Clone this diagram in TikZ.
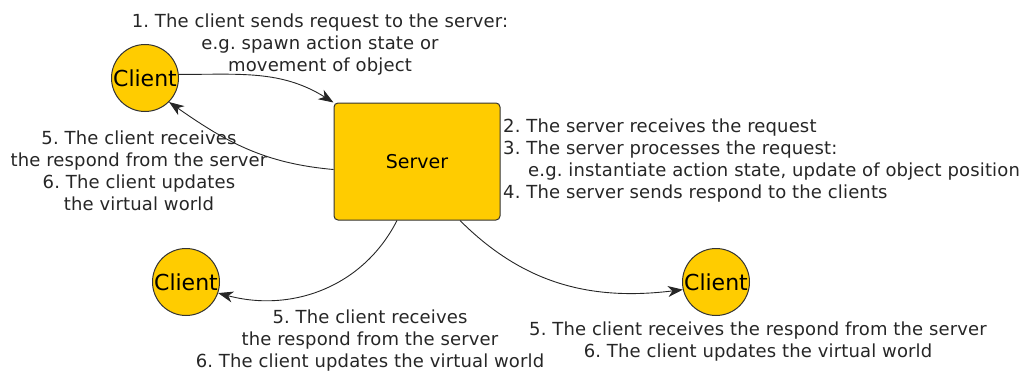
\documentclass[tikz,border=0pt]{standalone}
\usepackage{fontspec}
\setmainfont{DejaVu Sans}
\newfontfamily\notefont[LetterSpace=0.8]{DejaVu Sans}
\usetikzlibrary{arrows.meta}

\definecolor{gold}{HTML}{FFCC00}
\definecolor{edge}{HTML}{333333}

\begin{document}
\frenchspacing
\begin{tikzpicture}[x=1pt,y=1pt,
  client/.style={circle, draw=edge, fill=gold, line width=1pt,
    minimum size=67pt, inner sep=0pt, font=\fontsize{22}{26}\selectfont},
  serverbox/.style={rectangle, rounded corners=4pt, draw=edge, fill=gold,
    line width=1pt, minimum width=166pt, minimum height=117pt,
    font=\fontsize{19}{23}\selectfont},
  note/.style={inner sep=0pt, font=\notefont\fontsize{18}{22}\selectfont, text=black!85},
  msg/.style={-{Stealth[length=15pt,width=11pt,inset=4.5pt]}, line width=0.9pt, draw=black!85}
]
\useasboundingbox (0,0) rectangle (1026,-372);

% participants
\node[client] (c1) at (145,-78) {Client};
\node[serverbox] (srv) at (417,-161.5) {Server};
\node[client] (c2) at (186,-282) {Client};
\node[client] (c3) at (716,-282) {Client};

% messages
\draw[msg] (c1.6) to[out=0, in=148] (srv.north west);
\draw[msg] ([yshift=-8pt]srv.west) to[out=175, in=-35] (c1.-45);
\draw[msg] ([xshift=-20pt]srv.south) to[out=-117, in=-15] (c2.-19);
\draw[msg] ([xshift=43pt]srv.south) to[out=-45, in=187] (c3.193);

% step descriptions
\node[note, align=center] (t1) at (320,-45)
  {1. The client sends request to the server:\\e.g. spawn action state or\\movement of object};
\node[note, align=center] (t2) at (139,-170.5)
  {5. The client receives\\the respond from the server\\6. The client updates\\the virtual world};
\node[note, align=left, anchor=west] (t3) at (503,-160.5)
  {2. The server receives the request\\3. The server processes the request:\\
   \hspace*{25pt}e.g. instantiate action state, update of object position\\
   4. The server sends respond to the clients};
\node[note, align=center] (t4) at (370,-341)
  {5. The client receives\\the respond from the server\\6. The client updates the virtual world};
\node[note, align=center] (t5) at (758,-342)
  {5. The client receives the respond from the server\\6. The client updates the virtual world};
\end{tikzpicture}
\end{document}
